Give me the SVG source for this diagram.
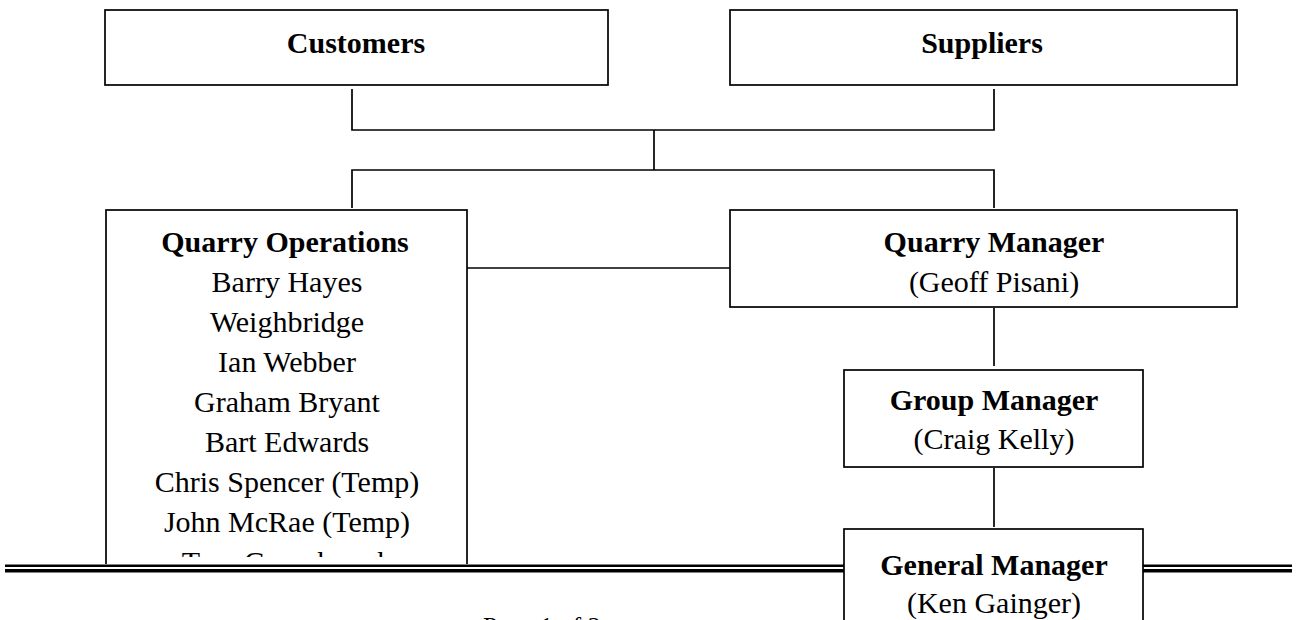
<svg xmlns="http://www.w3.org/2000/svg" width="1297" height="620" viewBox="0 0 1297 620">
<style>
.box{fill:#fff;stroke:#000;stroke-width:1.7}
.ln{stroke:#000;stroke-width:1.7;fill:none}
text{font-family:"Liberation Serif","Times New Roman",serif;font-size:30px;fill:#000;text-anchor:middle}
.b{font-weight:bold}
</style>
<defs>
<clipPath id="page"><rect x="0" y="0" width="1297" height="564"/></clipPath>
<clipPath id="inner"><rect x="0" y="0" width="1297" height="557"/></clipPath>
</defs>
<rect width="1297" height="620" fill="#fff"/>
<g id="connectors" class="ln">
<polyline points="352,89 352,130 994,130 994,89"/>
<line x1="654" y1="130" x2="654" y2="170"/>
<polyline points="352,208 352,170 994,170 994,208"/>
<line x1="466" y1="268" x2="730" y2="268"/>
<line x1="994" y1="308" x2="994" y2="366"/>
<line x1="994" y1="468" x2="994" y2="527"/>
</g>
<g id="customers">
<rect class="box" x="105" y="10" width="503" height="75"/>
<text class="b" x="356" y="53">Customers</text>
</g>
<g id="suppliers">
<rect class="box" x="730" y="10" width="507" height="75"/>
<text class="b" x="982" y="53">Suppliers</text>
</g>
<g id="quarry-operations" clip-path="url(#page)">
<rect class="box" x="106" y="210" width="361" height="400"/>
<g clip-path="url(#inner)">
<text class="b" x="285" y="252">Quarry Operations</text>
<text x="287" y="292">Barry Hayes</text>
<text x="287" y="332">Weighbridge</text>
<text x="287" y="372">Ian Webber</text>
<text x="287" y="412">Graham Bryant</text>
<text x="287" y="452">Bart Edwards</text>
<text x="287" y="492">Chris Spencer (Temp)</text>
<text x="287" y="532">John McRae (Temp)</text>
<text x="287" y="572">Tom Greenhough</text>
</g>
</g>
<g id="quarry-manager">
<rect class="box" x="730" y="210" width="507" height="97"/>
<text class="b" x="994" y="252">Quarry Manager</text>
<text x="994" y="292">(Geoff Pisani)</text>
</g>
<g id="group-manager">
<rect class="box" x="844" y="370" width="299" height="97"/>
<text class="b" x="994" y="410">Group Manager</text>
<text x="994" y="449">(Craig Kelly)</text>
</g>
<g id="footer">
<rect x="5" y="564.5" width="1287" height="2.5" fill="#000"/>
<rect x="5" y="569" width="1287" height="3.5" fill="#000"/>
<text x="483" y="635" style="text-anchor:start;font-size:26px">Page 1 of 2</text>
</g>
<g id="general-manager">
<rect class="box" x="844" y="529" width="299" height="120"/>
<text class="b" x="994" y="575">General Manager</text>
<text x="994" y="613">(Ken Gainger)</text>
</g>
</svg>
